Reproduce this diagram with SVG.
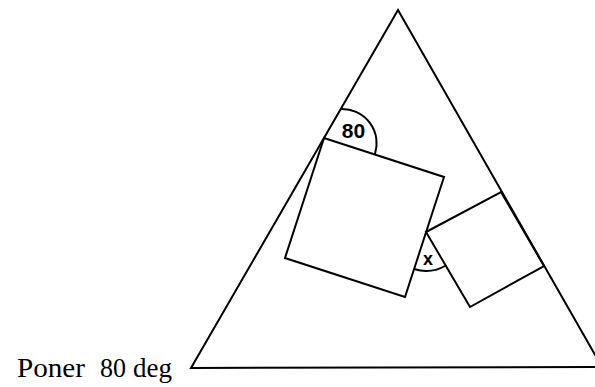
<svg xmlns="http://www.w3.org/2000/svg" width="595" height="387" viewBox="0 0 595 387">
<style>
.ln{fill:none;stroke:#000;stroke-width:2;stroke-linejoin:miter}
.lbl{font-family:"Liberation Sans",Arial,sans-serif;font-weight:bold;fill:#000;text-anchor:middle}
.cap{font-family:"Liberation Serif","Times New Roman",serif;fill:#000;font-size:27px}
</style>
<rect width="595" height="387" fill="#fff"/>
<g id="triangle"><polygon class="ln" points="398,10 191,368 602,367"/></g>
<g id="square1"><polygon class="ln" points="324,138 444,177 405,297 285,258"/></g>
<g id="square2"><polygon class="ln" points="426,232 501,192 544,266 470,307"/></g>
<g id="angle80">
<path class="ln" d="M341,109 A34.5,34.5 0 0 1 375,154"/>
<text class="lbl" x="353.5" y="138" font-size="21">80</text>
</g>
<g id="anglex">
<path class="ln" d="M414,269 A39,39 0 0 0 445,266"/>
<text class="lbl" x="428" y="264.5" font-size="18">x</text>
</g>
<g id="caption">
<text class="cap" y="377"><tspan x="17" textLength="68" lengthAdjust="spacingAndGlyphs">Poner</tspan> <tspan x="100" textLength="26" lengthAdjust="spacingAndGlyphs">80</tspan> <tspan x="133" textLength="39" lengthAdjust="spacingAndGlyphs">deg</tspan></text>
</g>
</svg>
